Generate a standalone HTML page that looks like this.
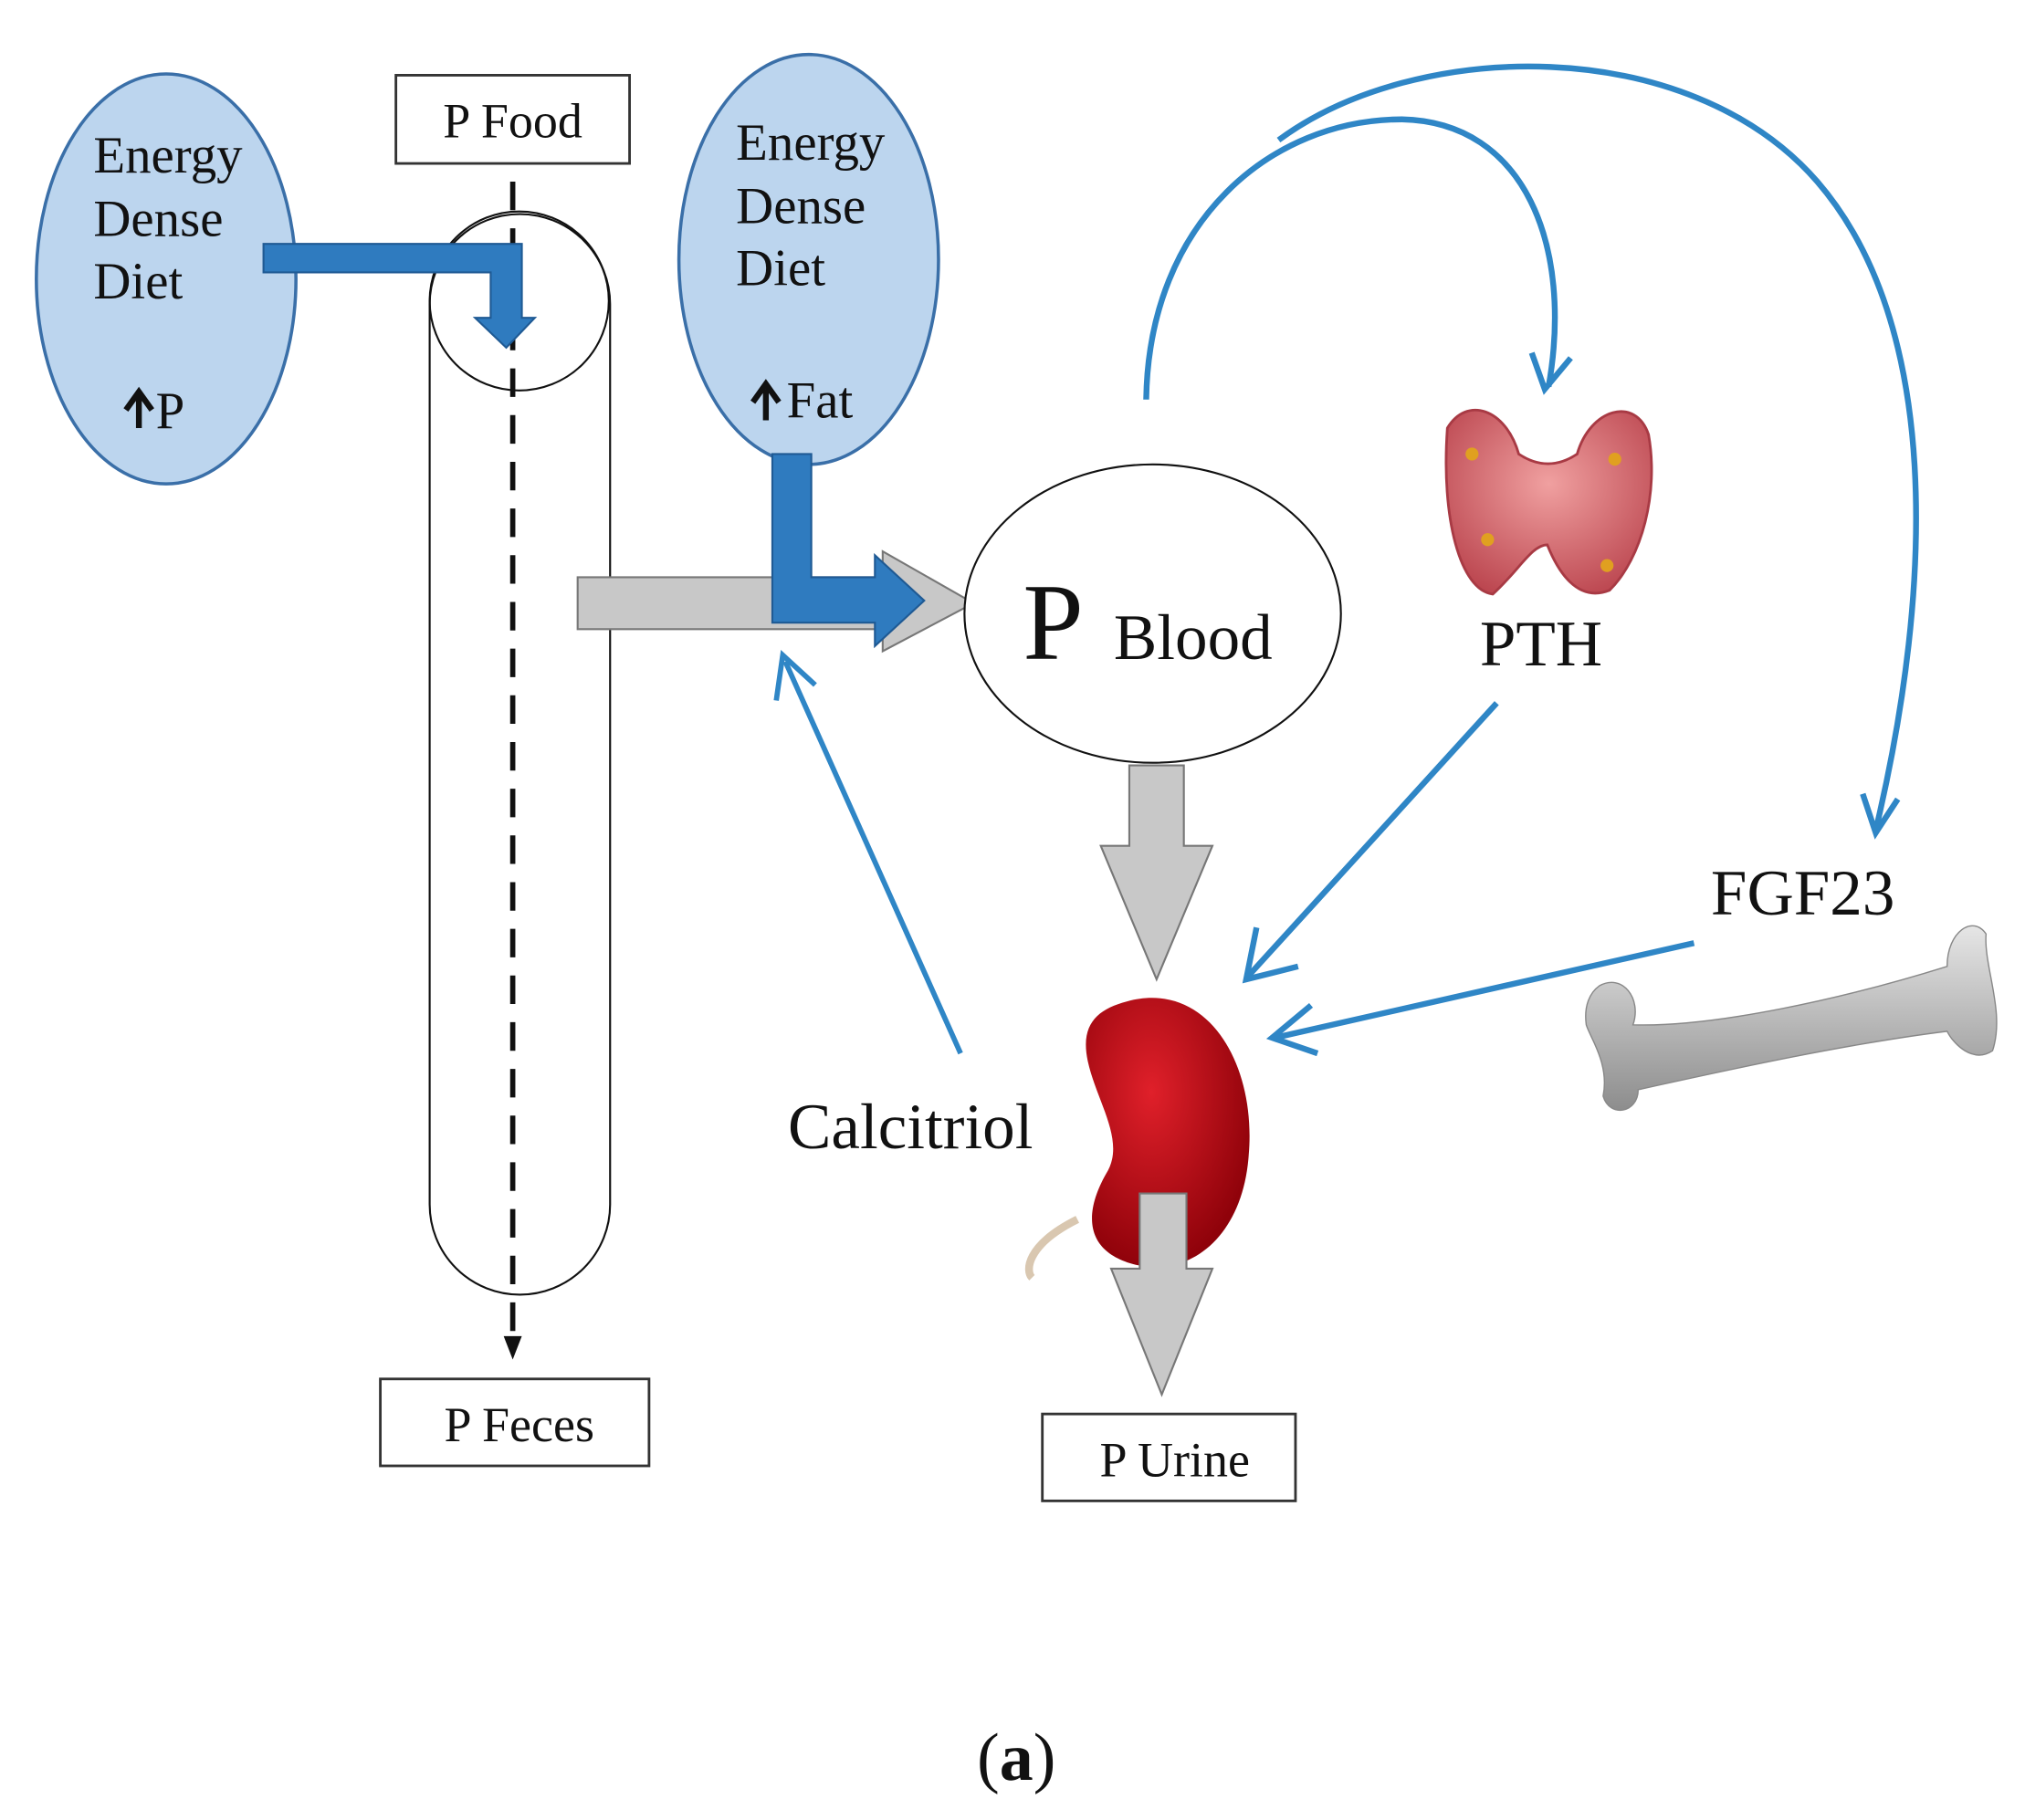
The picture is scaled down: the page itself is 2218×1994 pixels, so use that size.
<!DOCTYPE html>
<html><head><meta charset="utf-8"><style>
html,body{margin:0;padding:0;background:#fff;}
svg{display:block;}
text{font-family:"Liberation Serif",serif;fill:#111;}
</style></head><body>
<svg width="2218" height="1994" viewBox="0 0 1560 1403" preserveAspectRatio="none" xmlns="http://www.w3.org/2000/svg">
<defs>
<linearGradient id="bone" x1="0" y1="0" x2="0" y2="1"><stop offset="0" stop-color="#e6e6e6"/><stop offset="1" stop-color="#8d8d8d"/></linearGradient>
<radialGradient id="kid" cx="0.4" cy="0.35" r="0.7"><stop offset="0" stop-color="#e0202a"/><stop offset="1" stop-color="#8a0008"/></radialGradient>
<radialGradient id="thy" cx="0.5" cy="0.4" r="0.7"><stop offset="0" stop-color="#f0a0a0"/><stop offset="1" stop-color="#b8404a"/></radialGradient>
</defs>
<ellipse cx="128" cy="215" rx="100" ry="158" fill="#bcd5ee" stroke="#3a6fa8" stroke-width="2.5"/>
<text x="72" y="133" font-size="40">Energy</text>
<text x="72" y="182" font-size="40">Dense</text>
<text x="72" y="230" font-size="40">Diet</text>
<path d="M107,330 V306 M97,316 L107,302 L117,316" stroke="#111" stroke-width="4.5" fill="none"/>
<text x="120" y="330" font-size="40">P</text>
<rect x="305" y="58" width="180" height="68" fill="#fff" stroke="#333" stroke-width="2"/>
<text x="395" y="106" font-size="38" text-anchor="middle">P Food</text>
<rect x="331" y="165" width="139" height="833" rx="69.5" fill="#fff" stroke="#111" stroke-width="1.5"/>
<circle cx="400" cy="232" r="69" fill="none" stroke="#111" stroke-width="1.5"/>
<line x1="395" y1="140" x2="395" y2="1030" stroke="#111" stroke-width="4" stroke-dasharray="22,14"/>
<polygon points="388,1030 402,1030 395,1048" fill="#111"/>
<rect x="293" y="1063" width="207" height="67" fill="#fff" stroke="#333" stroke-width="2"/>
<text x="400" y="1111" font-size="38" text-anchor="middle">P Feces</text>
<path d="M203,188 H402 V245 H412 L390,268 L366,245 H378 V210 H203 Z" fill="#2f7bbf" stroke="#1f5a94" stroke-width="1.5"/>
<path d="M445,445 H680 V425 L750,465 L680,502 V485 H445 Z" fill="#c8c8c8" stroke="#777" stroke-width="1.5"/>
<ellipse cx="623" cy="200" rx="100" ry="158" fill="#bcd5ee" stroke="#3a6fa8" stroke-width="2.5"/>
<text x="567" y="123" font-size="40">Energy</text>
<text x="567" y="172" font-size="40">Dense</text>
<text x="567" y="220" font-size="40">Diet</text>
<path d="M590,324 V300 M580,310 L590,296 L600,310" stroke="#111" stroke-width="4.5" fill="none"/>
<text x="606" y="322" font-size="40">Fat</text>
<path d="M595,350 H625 V445 H674 V428 L712,463 L674,498 V480 H595 Z" fill="#2f7bbf" stroke="#1f5a94" stroke-width="1.5"/>
<ellipse cx="888" cy="473" rx="145" ry="115" fill="#fff" stroke="#111" stroke-width="1.5"/>
<text x="788" y="508" font-size="84">P</text>
<text x="858" y="508" font-size="50">Blood</text>
<path d="M870,590 H912 V652 H934 L891,755 L848,652 H870 Z" fill="#c8c8c8" stroke="#777" stroke-width="1.5"/>
<path d="M830,940 C790,960 790,980 795,985" stroke="#d9c7b0" stroke-width="6" fill="none"/>
<path d="M868,772 C930,755 968,820 962,890 C958,950 920,985 875,975 C835,965 835,935 852,905 C868,880 845,850 838,818 C832,790 845,778 868,772 Z" fill="url(#kid)"/>
<path d="M878,920 H914 V978 H934 L895,1075 L856,978 H878 Z" fill="#c8c8c8" stroke="#777" stroke-width="1.5"/>
<rect x="803" y="1090" width="195" height="67" fill="#fff" stroke="#333" stroke-width="2"/>
<text x="905" y="1138" font-size="38" text-anchor="middle">P Urine</text>
<text x="607" y="885" font-size="50">Calcitriol</text>
<line x1="740" y1="812" x2="605" y2="510" stroke="#2f86c6" stroke-width="4"/>
<polyline points="598,540 603,505 628,528" fill="none" stroke="#2f86c6" stroke-width="4"/>
<path d="M1115,330 C1130,305 1160,315 1170,350 C1185,360 1200,360 1215,350 C1225,315 1260,305 1270,335 C1278,380 1265,430 1240,455 C1215,465 1200,440 1192,420 C1180,420 1170,440 1150,458 C1125,455 1110,400 1115,330 Z" fill="url(#thy)" stroke="#a83a44" stroke-width="2"/>
<circle cx="1134" cy="350" r="5" fill="#e0a020"/><circle cx="1244" cy="354" r="5" fill="#e0a020"/>
<circle cx="1146" cy="416" r="5" fill="#e0a020"/><circle cx="1238" cy="436" r="5" fill="#e0a020"/>
<text x="1140" y="513" font-size="50">PTH</text>
<line x1="1153" y1="542" x2="962" y2="752" stroke="#2f86c6" stroke-width="4.5"/>
<polyline points="968,715 960,755 1000,745" fill="none" stroke="#2f86c6" stroke-width="4.5"/>
<text x="1318" y="705" font-size="50">FGF23</text>
<line x1="1305" y1="727" x2="982" y2="800" stroke="#2f86c6" stroke-width="4.5"/>
<polyline points="1010,775 980,800 1015,812" fill="none" stroke="#2f86c6" stroke-width="4.5"/>
<path d="M1232,760 C1250,750 1265,770 1258,790 C1320,792 1420,770 1500,745 C1500,718 1520,705 1530,720 C1528,745 1545,780 1535,810 C1520,820 1505,805 1500,795 C1420,805 1330,825 1262,840 C1262,858 1240,862 1235,845 C1240,820 1225,800 1222,790 C1220,775 1225,765 1232,760 Z" fill="url(#bone)" stroke="#888" stroke-width="1"/>
<path d="M883,308 C885,170 980,92 1080,92 C1175,94 1212,190 1193,298" fill="none" stroke="#2f86c6" stroke-width="4.5"/>
<polyline points="1180,272 1190,300 1210,276" fill="none" stroke="#2f86c6" stroke-width="4.5"/>
<path d="M985,108 C1090,30 1300,25 1400,140 C1495,250 1490,450 1445,640" fill="none" stroke="#2f86c6" stroke-width="4.5"/>
<polyline points="1435,612 1445,642 1462,616" fill="none" stroke="#2f86c6" stroke-width="4.5"/>
<text x="783" y="1372" font-size="52" text-anchor="middle">(<tspan font-weight="bold">a</tspan>)</text>
</svg>
</body></html>
